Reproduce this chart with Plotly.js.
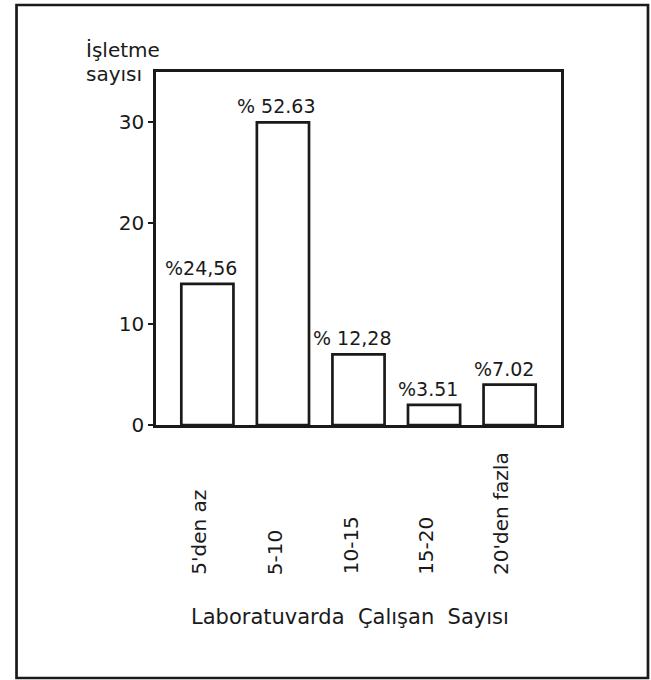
<!DOCTYPE html>
<html>
<head>
<meta charset="utf-8">
<script src="https://cdn.plot.ly/plotly-3.0.1.min.js"></script>
<style>html,body{margin:0;padding:0;background:#fff;}#chart{width:651px;height:680px;}</style>
</head>
<body>
<div id="chart"></div>
<script>
const categories = ["5'den az", "5-10", "10-15", "15-20", "20'den fazla"];
const counts = [14, 30, 7, 2, 4];
const percentLabels = ["%24,56", "% 52.63", "% 12,28", "%3.51", "%7.02"];
const yTickVals = [0, 10, 20, 30];
const yTitleLines = ["İşletme", "sayısı"];
const xTitle = "Laboratuvarda  Çalışan  Sayısı";

const FONT = "DejaVu Sans, Liberation Sans, sans-serif";
const INK = '#1a1a1a';

const trace = {
  type: 'bar',
  x: categories,
  y: counts,
  width: 0.69,
  marker: {color: '#ffffff', line: {color: INK, width: 2.7}},
  hoverinfo: 'skip'
};

const annotations = [];
categories.forEach((c, i) => {
  annotations.push({
    x: c, y: counts[i], xref: 'x', yref: 'y',
    text: percentLabels[i], showarrow: false,
    xanchor: 'center', yanchor: 'bottom', yshift: 3, xshift: -6,
    font: {family: FONT, size: 19, color: INK}
  });
  annotations.push({
    x: c, y: -0.43, xref: 'x', yref: 'paper',
    text: c, showarrow: false, textangle: -90,
    xanchor: 'center', yanchor: 'bottom', xshift: -8,
    font: {family: FONT, size: 20, color: INK}
  });
});
annotations.push({
  x: -0.178, y: 1.062, xref: 'paper', yref: 'paper',
  text: yTitleLines[0], showarrow: false, align: 'left',
  xanchor: 'left', yanchor: 'middle',
  font: {family: FONT, size: 20, color: INK}
});
annotations.push({
  x: -0.178, y: 0.993, xref: 'paper', yref: 'paper',
  text: yTitleLines[1], showarrow: false, align: 'left',
  xanchor: 'left', yanchor: 'middle',
  font: {family: FONT, size: 20, color: INK}
});
annotations.push({
  x: 0.48, y: -0.545, xref: 'paper', yref: 'paper',
  text: xTitle, showarrow: false,
  xanchor: 'center', yanchor: 'middle',
  font: {family: FONT, size: 21, color: INK}
});

const layout = {
  width: 651, height: 680,
  margin: {l: 156, r: 90, t: 72, b: 255},
  paper_bgcolor: '#ffffff', plot_bgcolor: '#ffffff',
  showlegend: false,
  xaxis: {
    type: 'category', range: [-0.68, 4.68],
    showticklabels: false, ticks: '', showgrid: false, zeroline: false,
    showline: true, mirror: true, linecolor: INK, linewidth: 2.7
  },
  yaxis: {
    range: [0, 35], tickvals: yTickVals, ticks: 'outside', ticklen: 5, tickwidth: 2,
    tickcolor: INK, showgrid: false, zeroline: false,
    showline: true, mirror: true, linecolor: INK, linewidth: 2.7,
    tickfont: {family: FONT, size: 20, color: INK}
  },
  annotations: annotations,
  shapes: [{
    type: 'rect', xref: 'paper', yref: 'paper',
    x0: -0.3444, x1: 1.2148, y0: -0.7167, y1: 1.1898,
    line: {color: INK, width: 2.7}, fillcolor: 'rgba(0,0,0,0)'
  }]
};

Plotly.newPlot('chart', [trace], layout, {staticPlot: true});
</script>
</body>
</html>
